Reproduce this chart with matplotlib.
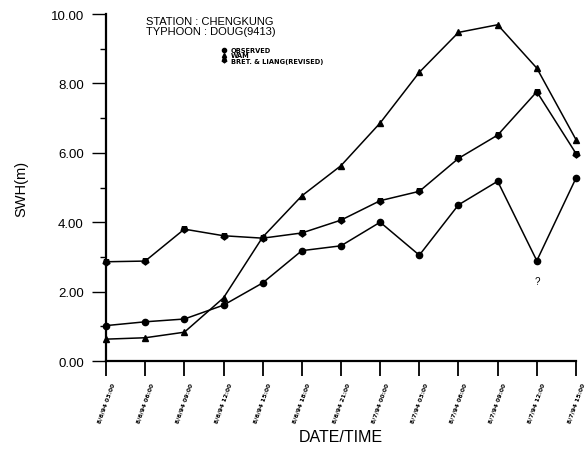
import matplotlib
matplotlib.use("Agg")
import matplotlib.pyplot as plt
from matplotlib.lines import Line2D

plt.rcParams['font.family'] = ['Liberation Sans', 'DejaVu Sans']

times = ["8/6/94 03:00", "8/6/94 06:00", "8/6/94 09:00", "8/6/94 12:00",
         "8/6/94 15:00", "8/6/94 18:00", "8/6/94 21:00", "8/7/94 00:00",
         "8/7/94 03:00", "8/7/94 06:00", "8/7/94 09:00", "8/7/94 12:00",
         "8/7/94 15:00"]
observed = [1.02, 1.13, 1.21, 1.61, 2.25, 3.18, 3.32, 4.00, 3.05, 4.50, 5.18, 2.89, 5.27]
wam = [0.63, 0.67, 0.83, 1.82, 3.57, 4.76, 5.63, 6.86, 8.32, 9.47, 9.69, 8.44, 6.38]
bret = [2.86, 2.88, 3.80, 3.61, 3.54, 3.69, 4.06, 4.62, 4.89, 5.84, 6.51, 7.76, 5.98]
yticks = [0, 2, 4, 6, 8, 10]
ytick_labels = ["0.00", "2.00", "4.00", "6.00", "8.00", "10.00"]

fig = plt.figure(figsize=(5.86, 4.52), dpi=100)
ax = fig.add_axes([0.1809, 0.1991, 0.802, 0.7677])

x = list(range(len(times)))
ax.plot(x, observed, color='black', lw=1.1, marker='o', ms=4.5, clip_on=False)
ax.plot(x, wam, color='black', lw=1.1, marker='^', ms=4.5, clip_on=False)
ax.plot(x, bret, color='black', lw=1.1, marker=(5, 0, 180), ms=5, clip_on=False)

ax.text(11, 2.3, "?", ha='center', va='center', fontsize=7)

ax.set_xlim(0, 12)
ax.set_ylim(0, 10)
ax.set_xticks(x)
ax.set_xticklabels(times, rotation=70, fontsize=4.3, fontweight='bold', ha='center', va='top',
                   family=['DejaVu Sans'])
ax.set_yticks(yticks)
ax.set_yticklabels(ytick_labels, fontsize=9.5)
ax.set_yticks([1, 3, 5, 7, 9], minor=True)

ax.tick_params(axis='y', which='major', direction='out', length=10, width=1, pad=6)
ax.tick_params(axis='y', which='minor', direction='out', length=4.5, width=1)
ax.tick_params(axis='x', which='major', direction='out', length=11, width=1.3, pad=4)

for s in ['top', 'right']:
    ax.spines[s].set_visible(False)
for s in ['left', 'bottom']:
    ax.spines[s].set_linewidth(1.6)

ax.set_ylabel("SWH(m)", fontsize=10.5, labelpad=16)
ax.set_xlabel("DATE/TIME", fontsize=11.5, labelpad=4)

ax.text(0.085, 0.995, "STATION : CHENGKUNG\nTYPHOON : DOUG(9413)", transform=ax.transAxes,
        fontsize=8, va='top', ha='left', linespacing=1.0)

handles = [Line2D([], [], color='black', ls='none', marker='o', ms=3),
           Line2D([], [], color='black', ls='none', marker='^', ms=3),
           Line2D([], [], color='black', ls='none', marker=(5, 0, 180), ms=3.3)]
ax.legend(handles, ["OBSERVED", "WAM", "BRET. & LIANG(REVISED)"], loc='upper left',
          bbox_to_anchor=(0.24, 0.915), frameon=False, handlelength=0.6,
          handletextpad=0.7, labelspacing=-0.1, borderpad=0,
          prop={'weight': 'bold', 'size': 4.8, 'family': 'DejaVu Sans'})

fig.savefig("out.png", dpi=100)
